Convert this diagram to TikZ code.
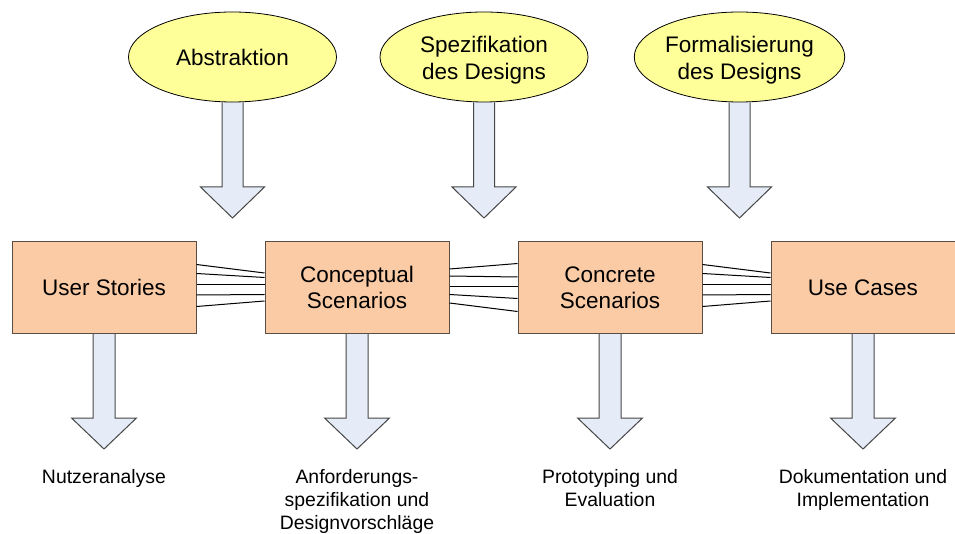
\documentclass[tikz,border=0pt]{standalone}
\usepackage{fontspec}
\setmainfont{Liberation Sans}
\usetikzlibrary{shapes.geometric}
\usetikzlibrary{positioning}
\usetikzlibrary{calc, backgrounds}

\definecolor{boxfill}{RGB}{250,203,165}
\definecolor{boxline}{RGB}{88,78,70}
\definecolor{ellfill}{RGB}{255,255,153}
\definecolor{arrfill}{RGB}{230,236,247}
\definecolor{arrline}{RGB}{70,70,70}

% block arrow: start, tip, half shaft width, half head width
\newcommand{\blockarrow}[4]{%
\draw[fill=arrfill,draw=arrline,line width=1pt] let \p1=(#1), \p2=(#2) in
 (\x1-#3,\y1) -- (\x1-#3,\y2+31pt) -- (\x1-#4,\y2+31pt) -- (\x1,\y2)
 -- (\x1+#4,\y2+31pt) -- (\x1+#3,\y2+31pt) -- (\x1+#3,\y1);
}

\begin{document}
\begin{tikzpicture}[x=1pt,y=1pt,
  stage/.style={rectangle,draw=boxline,fill=boxfill,line width=1pt,minimum width=184pt,minimum height=92pt,inner sep=0pt,align=center,font=\fontsize{22.5}{26}\selectfont},
  goal/.style={ellipse,draw=black,fill=ellfill,line width=0.8pt,minimum width=208pt,minimum height=90pt,inner sep=0pt,align=center,font=\fontsize{22.5}{27}\selectfont},
  result/.style={inner sep=0pt,align=center,anchor=north,font=\fontsize{19.4}{23}\selectfont},
  fan/.style={black,line width=1pt}]
\useasboundingbox (0,0) rectangle (955,533);

\node[stage] (us) at (104,245.5) {User Stories};
\node[stage] (cs) at (357,245.5) {Conceptual\\Scenarios};
\node[stage] (ks) at (610,245.5) {Concrete\\Scenarios};
\node[stage] (uc) at (863,245.5) {Use Cases};

\node[goal] (abs) at (232.5,476) {Abstraktion};
\node[goal,text height=50pt] (spz) at (484,476) {Spezifikation\\des Designs};
\node[goal,text height=50pt] (frm) at (739.5,476) {Formalisierung\\des Designs};

\coordinate (t1) at (232.5,315);
\coordinate (t2) at (484,315);
\coordinate (t3) at (739.5,315);
\coordinate (b1) at (104,84);
\coordinate (b2) at (357,84);
\coordinate (b3) at (610,84);
\coordinate (b4) at (863,84);

\begin{scope}[on background layer]
\blockarrow{abs.south}{t1}{10.5pt}{32pt}
\blockarrow{spz.south}{t2}{10.5pt}{32pt}
\blockarrow{frm.south}{t3}{10.5pt}{32pt}
\blockarrow{us.south}{b1}{11pt}{32.5pt}
\blockarrow{cs.south}{b2}{11pt}{32.5pt}
\blockarrow{ks.south}{b3}{11pt}{32.5pt}
\blockarrow{uc.south}{b4}{11pt}{32.5pt}
\end{scope}

\foreach \a/\b in {23/14.5,14/10,2.5/2.5,-7.5/-7,-19/-13.5}
  \draw[fan] ([yshift=\a pt]us.east) -- ([yshift=\b pt]cs.west);
\foreach \a/\b in {18.5/24,11.5/10.5,1/1,-7/-11,-15.5/-24}
  \draw[fan] ([yshift=\a pt]cs.east) -- ([yshift=\b pt]ks.west);
\foreach \a/\b in {23/14.5,14/10,2.5/2.5,-7.5/-7,-19/-13.5}
  \draw[fan] ([yshift=\a pt]ks.east) -- ([yshift=\b pt]uc.west);

\node[result,below=20pt of b1] (nz) {Nutzeranalyse};
\node[result,below=20pt of b2] (af) {Anforderungs-\\spezifikation und\\Designvorschläge};
\node[result,below=20pt of b3] (pt) {Prototyping und\\Evaluation};
\node[result,below=20pt of b4] (dk) {Dokumentation und\\Implementation};

\end{tikzpicture}
\end{document}
